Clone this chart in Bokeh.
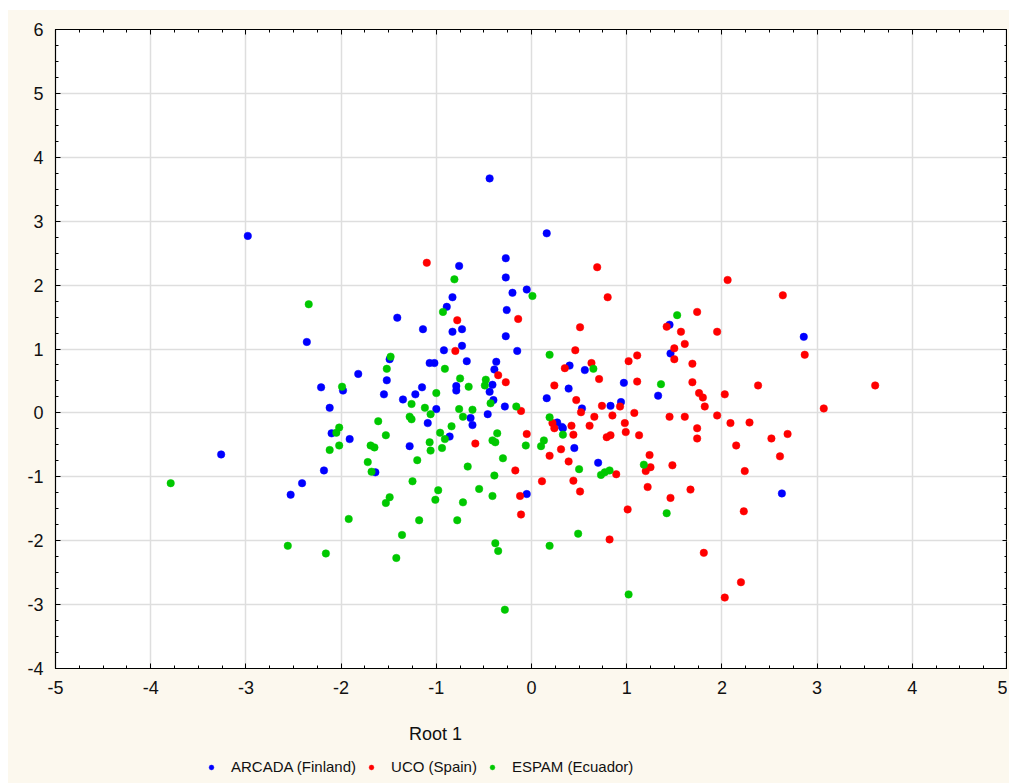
from bokeh.plotting import figure
from bokeh.layouts import column
from bokeh.models import (LinearAxis, SingleIntervalTicker, Legend, LegendItem, Range1d,
                          Label, ColumnDataSource)
from bokeh.embed import file_html
from bokeh.resources import INLINE

# ---- data (Root 1, Root 2) ----
arcada_x = [-2.98, -2.36, -1.41, -1.14, -0.89, -0.92, -1.07, -1.02, -1.82, -2.21,
            -1.98, -1.49, -1.52, -1.55, -1.35, -1.22, -1.15, -1.00, -1.09, -2.12,
            -2.10, -1.91, -0.44, 0.16, -0.27, -0.27, -0.76, -0.20, -0.05, -0.83,
            -0.26, -0.83, -0.73, -0.27, -0.73, -0.15, -0.68, -0.37, -0.39, 0.40,
            0.56, 0.97, 1.45, 1.46, 1.33, 0.94, 0.83, 0.53, 0.39, 0.16,
            0.27, 0.33, -0.28, -0.46, -0.40, -0.44, -0.41, -0.64, -0.62, -0.79,
            -0.79, -0.86, -3.26, -2.41, -2.53, -2.18, -1.64, -1.28, -0.05, 0.32,
            0.45, 0.70, 2.86, 2.63]
arcada_y = [2.77, 1.11, 1.49, 1.31, 1.66, 0.98, 0.78, 0.78, 0.61, 0.40,
            0.35, 0.84, 0.51, 0.29, 0.21, 0.29, 0.40, 0.06, -0.16, 0.08,
            -0.32, -0.41, 3.67, 2.81, 2.42, 2.12, 2.30, 1.88, 1.93, 1.81,
            1.61, 1.27, 1.31, 1.20, 1.05, 0.97, 0.81, 0.80, 0.68, 0.74,
            0.67, 0.47, 1.38, 0.93, 0.27, 0.17, 0.11, 0.07, 0.38, 0.23,
            -0.15, -0.24, 0.10, -0.02, 0.20, 0.33, 0.44, -0.08, -0.19, 0.42,
            0.35, -0.37, -0.65, -1.10, -1.28, -0.90, -0.93, -0.52, -1.27, -0.22,
            -0.55, -0.78, 1.19, -1.26]

uco_x = [-1.10, 0.69, 0.80, -0.14, -0.78, 0.51, -0.80, 0.46, -0.35, -0.27,
         0.35, 0.63, 0.71, 1.02, 1.11, 1.11, 1.74, 1.42, 1.57, 1.61,
         1.50, 1.50, 1.69, 1.69, 1.76, 1.45, 1.61, 1.74, 1.74, 1.13,
         0.99, 0.98, 1.08, 0.93, 0.74, 0.85, 0.66, 0.61, 0.79, 0.83,
         0.52, 0.47, 0.24, 0.22, 0.24, 0.42, 0.44, -0.05, -0.11, -0.59,
         -0.17, -0.12, -0.11, 0.31, 0.19, 0.39, 0.89, 0.11, 0.44, 0.51,
         0.82, 1.01, 1.24, 1.25, 1.20, 1.22, 1.48, 1.46, 2.06, 2.64,
         1.95, 2.87, 2.38, 3.61, 1.80, 2.03, 1.82, 3.07, 1.95, 2.09,
         2.29, 2.52, 2.69, 2.15, 2.61, 2.24, 1.67, 2.23, 1.81, 2.20,
         2.03]
uco_y = [2.35, 2.28, 1.81, 1.47, 1.45, 1.34, 0.97, 0.98, 0.59, 0.48,
         0.70, 0.78, 0.53, 0.81, 0.90, 0.49, 1.58, 1.35, 1.27, 1.08,
         1.01, 0.84, 0.77, 0.48, 0.31, -0.06, -0.06, -0.24, -0.40, -0.35,
         -0.30, -0.16, 0.00, 0.10, 0.11, -0.04, -0.06, -0.20, -0.38, -0.35,
         0.01, 0.20, 0.43, -0.16, -0.24, -0.20, -0.34, -0.33, 0.03, -0.48,
         -0.90, -1.30, -1.59, -0.57, -0.67, -0.76, -0.96, -1.07, -1.06, -1.23,
         -1.98, -1.51, -0.66, -0.85, -0.91, -1.16, -0.82, -1.33, 2.08, 1.84,
         1.27, 0.91, 0.43, 0.43, 0.24, 0.29, 0.10, 0.07, -0.04, -0.16,
         -0.15, -0.40, -0.33, -0.51, -0.68, -0.91, -1.20, -1.54, -2.19, -2.65,
         -2.89]

espam_x = [-2.34, -0.93, -0.91, -1.99, -1.48, -1.52, -1.00, -1.26, -1.12, -1.06,
           -1.28, -1.26, -1.61, -2.02, -2.05, -1.53, -0.96, -0.81, 0.01, 0.19,
           0.65, 1.53, 1.36, 0.19, 0.33, -0.16, -0.43, -0.48, -0.49, -0.62,
           -0.72, -0.76, -0.75, -0.66, -0.84, -0.91, -1.07, -0.36, -0.41, -0.06,
           0.13, -3.79, -2.12, -2.02, -2.56, -2.16, -1.92, -1.72, -1.68, -1.69,
           -1.65, -1.20, -1.25, -1.49, -1.53, -1.18, -1.36, -1.42, -1.06, -0.94,
           -0.67, -0.98, -1.01, -0.78, -0.72, -0.55, -0.41, -0.39, -0.30, -0.38,
           0.10, 0.50, 0.73, 0.77, 0.82, 0.49, 0.19, -0.38, -0.35, -0.28,
           1.02, 1.18, 1.42]
espam_y = [1.70, 1.58, 0.69, 0.41, 0.88, 0.69, 0.31, 0.14, 0.08, -0.02,
           -0.06, -0.10, -0.13, -0.23, -0.31, -0.35, -0.31, 2.09, 1.83, 0.91,
           0.69, 1.53, 0.45, -0.07, -0.34, 0.10, 0.15, 0.52, 0.43, 0.05,
           -0.06, 0.06, 0.54, 0.41, -0.21, -0.41, -0.46, -0.32, -0.43, -0.51,
           -0.43, -1.10, -0.58, -0.51, -2.08, -2.20, -1.66, -0.77, -0.92, -0.51,
           -0.54, -0.74, -1.07, -1.32, -1.41, -1.68, -1.91, -2.27, -0.59, -0.55,
           -0.84, -1.21, -1.36, -1.68, -1.40, -1.19, -1.30, -0.98, -0.71, -0.46,
           -0.52, -0.88, -0.97, -0.93, -0.90, -1.89, -2.08, -2.04, -2.16, -3.08,
           -2.84, -0.81, -1.57]

group_names = ["ARCADA (Finland)", "UCO (Spain)", "ESPAM (Ecuador)"]
group_colors = ["#0000FF", "#FF0000", "#00C800"]
x_label = "Root 1"
x_ticks = [-5, -4, -3, -2, -1, 0, 1, 2, 3, 4, 5]
y_ticks = [-4, -3, -2, -1, 0, 1, 2, 3, 4, 5, 6]

FONT = "Liberation Sans"
CREAM = "#FCF8EE"

# ---------------- main scatter figure ----------------
p = figure(frame_width=952, frame_height=639, x_range=Range1d(-5, 5), y_range=Range1d(-4, 6),
           output_backend="svg", toolbar_location=None,
           min_border_left=47, min_border_top=19, min_border_right=0,
           min_border_bottom=42, border_fill_color=CREAM,
           background_fill_color="white", outline_line_color="black",
           outline_line_width=1.2)

xt = SingleIntervalTicker(interval=1, num_minor_ticks=4)
yt = SingleIntervalTicker(interval=1, num_minor_ticks=4)
p.xaxis.ticker = xt
p.yaxis.ticker = yt
p.xgrid.ticker = xt
p.ygrid.ticker = yt

for g in (p.xgrid[0], p.ygrid[0]):
    g.grid_line_color = "#DEDEDE"
    g.grid_line_width = 1.5

def style_axis(ax, labels=True):
    ax.axis_line_color = "black"
    ax.major_tick_in = 5
    ax.major_tick_out = 0
    ax.minor_tick_in = 3
    ax.minor_tick_out = 0
    ax.major_tick_line_color = "black"
    ax.minor_tick_line_color = "black"
    ax.major_label_text_font = FONT
    ax.major_label_text_font_size = "18px"
    ax.major_label_text_color = "#111111"
    ax.major_label_standoff = 12 if labels else 0

style_axis(p.xaxis[0])
style_axis(p.yaxis[0])
p.xaxis[0].major_label_overrides = {t: str(t) for t in x_ticks}
p.yaxis[0].major_label_overrides = {t: str(t) for t in y_ticks}

top_ax = LinearAxis(ticker=xt)
right_ax = LinearAxis(ticker=yt)
style_axis(top_ax, labels=False)
style_axis(right_ax, labels=False)
top_ax.major_label_overrides = {t: "" for t in x_ticks}
right_ax.major_label_overrides = {t: "" for t in y_ticks}
p.add_layout(top_ax, "above")
p.add_layout(right_ax, "right")

sources = [ColumnDataSource(dict(x=arcada_x, y=arcada_y)),
           ColumnDataSource(dict(x=uco_x, y=uco_y)),
           ColumnDataSource(dict(x=espam_x, y=espam_y))]

for src, col in zip(sources, group_colors):
    p.scatter("x", "y", source=src, size=7.5, marker="circle", fill_color=col,
              line_color=col, line_width=0.5)

# ---------------- strip below: axis title + legend ----------------
LEG_H = 73
q = figure(width=1001, height=LEG_H, x_range=Range1d(100, 101), y_range=Range1d(100, 101),
           output_backend="svg", toolbar_location=None, x_axis_type=None,
           y_axis_type=None, min_border=0, border_fill_color=CREAM,
           background_fill_color=CREAM, outline_line_color=None)

items = []
for src, name, col in zip(sources, group_names, group_colors):
    r = q.scatter("x", "y", source=src, size=7.5, marker="circle", fill_color=col,
                  line_color=col, line_width=0.5)
    items.append(LegendItem(label=name, renderers=[r]))

q.add_layout(Label(x=380, y=LEG_H - 23, x_units="screen", y_units="screen",
                   text=x_label, text_align="center", text_baseline="middle",
                   text_font=FONT, text_font_size="18px", text_color="#111111"))

legend = Legend(items=items, orientation="horizontal", location=(150, 8),
                background_fill_alpha=0, border_line_color=None,
                label_text_font=FONT, label_text_font_size="15px",
                label_text_color="#111111", glyph_width=12, glyph_height=12,
                label_standoff=14, spacing=9, padding=4, margin=0)
q.add_layout(legend, "center")

layout = column(p, q, spacing=0, margin=(10, 0, 0, 8),
                styles={"background-color": CREAM})

open("out.html", "w").write(file_html(layout, INLINE))
